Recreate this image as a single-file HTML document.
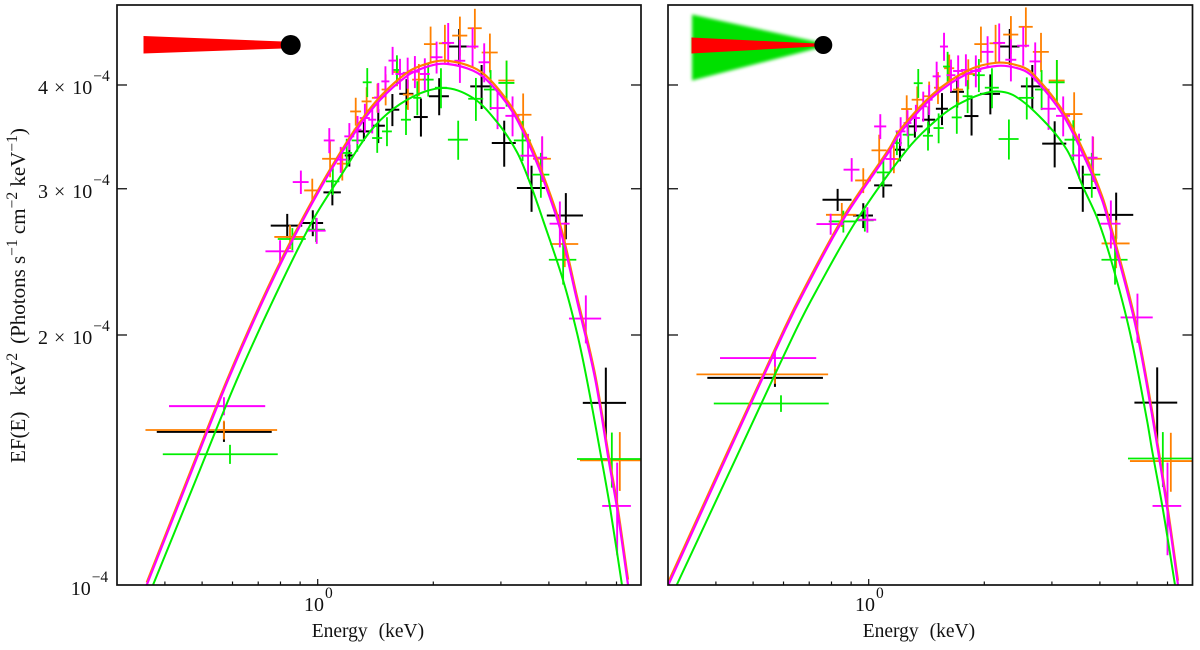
<!DOCTYPE html>
<html lang="en">
<head>
<meta charset="utf-8">
<title>EF(E) spectra</title>
<style>
html,body{margin:0;padding:0;background:#fff;width:1200px;height:650px;overflow:hidden}
svg{display:block}
text{font-family:"Liberation Serif",serif;fill:#111}
</style>
</head>
<body>
<svg id="chart" xmlns="http://www.w3.org/2000/svg" width="1200" height="650" viewBox="0 0 1200 650">
<defs>
<clipPath id="clip-left"><rect x="117" y="5" width="524" height="580"/></clipPath>
<clipPath id="clip-right"><rect x="668" y="5" width="524.5" height="580"/></clipPath>
<filter id="soft" x="-10%" y="-10%" width="120%" height="120%"><feGaussianBlur stdDeviation="1.5"/></filter>
</defs>
<g>
<polygon points="143.5,36 283,41.5 283,48.5 143.5,53.5" fill="#ff0000"/>
<circle cx="290.7" cy="45" r="10" fill="#000"/>
</g>
<g>
<polygon points="692,14.5 822,43 822,47 692,80.5" fill="#00e000" filter="url(#soft)"/>
<polygon points="691.5,37.5 816,43.5 816,46.5 691.5,53.5" fill="#ff0000"/>
<circle cx="823.3" cy="45" r="9" fill="#000"/>
</g>
<text transform="translate(25,463) rotate(-90)" font-size="21" xml:space="preserve">EF(E)<tspan dx="16">keV</tspan><tspan dy="-8" font-size="15.5">2</tspan><tspan dy="8" dx="9">(Photons s</tspan><tspan dy="-8" font-size="15.5">−1</tspan><tspan dy="8"> cm</tspan><tspan dy="-8" font-size="15.5">−2</tspan><tspan dy="8"> keV</tspan><tspan dy="-8" font-size="15.5">−1</tspan><tspan dy="8">)</tspan></text>
</svg>
<script>
// Axis tick data
const yMajorTicks = [2, 3, 4];
const yMajorLabels = ['2', '3', '4'];
const xMinorTicks = [0.4, 0.5, 0.6, 0.7, 0.8, 0.9, 2, 3, 4, 5, 6];
const xMajorTicks = [1];

// Left panel: black data set (keV, half width, flux / 1e-4, error)
const leftBlackEnergy = [.57,.833,.971,1.092,1.209,1.319,1.438,1.565,1.703,1.857,2.072,2.336,2.672,3.06,3.605,4.428,5.628];
const leftBlackEnergyErr = [.189,.0785,.062,.057,.033,.07,.058,.066,.072,.078,.124,.14,.176,.22,.303,.478,.726];
const leftBlackFlux = [1.529,2.708,2.728,2.97,3.29,3.517,3.573,3.735,3.903,3.66,3.877,4.45,3.985,3.406,3.006,2.786,1.657];
const leftBlackFluxErr = [.042,.09,.098,.105,.10,.093,.168,.166,.162,.193,.199,.222,.243,.217,.192,.178,.17];

// Left panel: orange data set
const leftOrangeEnergy = [.57,.847,.968,1.077,1.159,1.256,1.341,1.431,1.503,1.608,1.718,1.834,1.968,2.144,2.346,2.566,2.808,3.104,3.428,3.842,4.40,6.12];
const leftOrangeEnergyErr = [.214,.076,.046,.05,.038,.041,.04,.047,.036,.039,.052,.072,.077,.077,.106,.108,.135,.149,.175,.207,.37,1.30];
const leftOrangeFlux = [1.537,2.625,2.986,3.26,3.216,3.717,3.822,3.86,3.95,4.147,3.895,4.06,4.48,4.49,4.587,4.682,4.377,4.05,3.683,3.26,2.574,1.413];
const leftOrangeFluxErr = [.04,.087,.099,.163,.147,.144,.153,.155,.17,.161,.162,.18,.223,.236,.248,.259,.236,.23,.224,.203,.16,.115];

// Left panel: green data set
const leftGreenEnergy = [.591,.859,.99,1.095,1.19,1.268,1.346,1.429,1.515,1.608,1.698,1.817,1.94,2.094,2.322,2.582,2.82,3.104,3.416,3.812,4.357,5.834];
const leftGreenEnergyErr = [.196,.072,.055,.044,.039,.042,.036,.043,.045,.039,.051,.044,.064,.075,.139,.116,.11,.149,.174,.199,.358,1.10];
const leftGreenFlux = [1.437,2.61,2.678,3.062,3.313,3.43,4.03,3.453,3.517,4.17,3.633,3.86,4.06,3.97,3.437,3.85,3.95,4.023,3.43,3.12,2.464,1.418];
const leftGreenFluxErr = [.038,.08,.089,.114,.133,.105,.162,.139,.141,.173,.151,.182,.186,.22,.186,.229,.219,.256,.19,.194,.164,.108];

// Left panel: magenta data set
const leftMagentaEnergy = [.57,.798,.904,.994,1.072,1.148,1.209,1.27,1.327,1.387,1.438,1.501,1.567,1.638,1.715,1.791,1.901,2.04,2.187,2.346,2.531,2.714,2.94,3.217,3.53,3.842,4.272,4.992,6.023];
const leftMagentaEnergyErr = [.16,.067,.043,.055,.035,.041,.036,.03,.04,.033,.035,.036,.038,.044,.051,.054,.057,.073,.079,.077,.091,.09,.132,.135,.159,.115,.256,.48,.517];
const leftMagentaFlux = [1.642,2.522,3.056,2.671,3.43,3.252,3.469,3.534,3.65,3.633,3.863,4.04,4.28,4.124,4.137,4.15,4.124,4.32,4.495,4.278,4.45,4.26,3.752,3.672,3.288,3.27,2.723,2.093,1.245];
const leftMagentaFluxErr = [.041,.079,.099,.096,.119,.117,.13,.137,.147,.136,.16,.173,.166,.177,.178,.184,.183,.191,.255,.255,.24,.23,.213,.203,.205,.2,.173,.139,.159];

// Left panel: model curves
const leftModelEnergy = [.3587,.4576,.584,.742,.916,1.143,1.393,1.705,1.961,2.171,2.538,2.81,3.226,3.572,3.861,4.276,4.735,5.274,5.736,6.018,6.43];
const leftMagentaModelFlux = [1,1.33,1.765,2.266,2.751,3.29,3.753,4.10,4.218,4.241,4.162,4.02,3.704,3.369,3.085,2.686,2.20,1.775,1.406,1.238,1];
const leftOrangeModelFlux = [1.007,1.34,1.777,2.282,2.77,3.313,3.785,4.137,4.254,4.278,4.20,4.06,3.74,3.41,3.12,2.72,2.225,1.795,1.425,1.255,1.015];
const leftGreenModelEnergy = [.3725,.479,.6154,.788,.972,1.143,1.393,1.705,2.12,2.538,2.93,3.304,3.572,3.861,4.353,4.735,5.026,5.49,5.77,6.2];
const leftGreenModelFlux = [1,1.33,1.765,2.266,2.751,3.099,3.55,3.837,3.967,3.859,3.61,3.321,3.048,2.751,2.33,2.011,1.765,1.414,1.241,1];

// Right panel: black data set
const rightBlackEnergy = [.57,.83,.968,1.092,1.206,1.319,1.433,1.552,1.70,1.853,2.074,2.33,2.667,3.05,3.61,4.41,5.64];
const rightBlackEnergyErr = [.19,.072,.058,.059,.036,.063,.056,.056,.071,.078,.124,.14,.176,.22,.303,.476,.72];
const rightBlackFlux = [1.776,2.91,2.786,3.028,3.343,3.566,3.633,3.745,3.925,3.67,3.903,4.45,3.985,3.40,3.006,2.79,1.658];
const rightBlackFluxErr = [.044,.089,.096,.101,.106,.109,.136,.166,.169,.193,.216,.222,.243,.217,.192,.178,.17];

// Right panel: orange data set
const rightOrangeEnergy = [.57,.851,.968,1.065,1.163,1.256,1.338,1.437,1.515,1.621,1.71,1.817,1.96,2.14,2.346,2.566,2.81,3.09,3.428,3.842,4.41,6.12];
const rightOrangeEnergyErr = [.214,.077,.046,.048,.035,.041,.044,.047,.036,.049,.051,.076,.076,.077,.106,.108,.135,.148,.175,.207,.37,1.33];
const rightOrangeFlux = [1.793,2.791,3.07,3.337,3.258,3.742,3.84,3.877,3.97,4.19,3.95,4.124,4.48,4.49,4.60,4.70,4.385,4.05,3.69,3.26,2.578,1.41];
const rightOrangeFluxErr = [.046,.093,.106,.148,.126,.145,.144,.161,.176,.162,.164,.171,.223,.236,.242,.26,.237,.236,.23,.203,.171,.115];

// Right panel: green data set
const rightGreenEnergy = [.591,.859,.977,1.092,1.184,1.268,1.346,1.427,1.521,1.605,1.696,1.81,1.936,2.094,2.318,2.58,2.82,3.09,3.41,3.81,4.38,5.834];
const rightGreenEnergyErr = [.196,.072,.053,.043,.036,.042,.036,.043,.046,.043,.051,.054,.07,.088,.139,.116,.11,.148,.174,.199,.342,1.10];
const rightGreenFlux = [1.654,2.74,2.748,3.139,3.406,3.485,4.02,3.475,3.55,4.21,3.656,3.877,4.11,3.97,3.444,3.86,3.95,4.03,3.437,3.12,2.464,1.42];
const rightGreenFluxErr = [.038,.083,.084,.122,.113,.116,.161,.14,.147,.175,.162,.177,.188,.22,.191,.225,.219,.257,.19,.194,.164,.108];

// Right panel: magenta data set
const rightMagentaEnergy = [.57,.796,.903,.992,1.072,1.14,1.211,1.262,1.327,1.387,1.437,1.503,1.571,1.638,1.71,1.791,1.901,2.04,2.187,2.346,2.526,2.714,2.94,3.21,3.53,3.83,4.272,5.01,6.0];
const rightMagentaEnergyErr = [.16,.065,.043,.054,.039,.034,.036,.03,.032,.033,.03,.036,.038,.044,.051,.054,.063,.073,.079,.077,.091,.09,.132,.135,.159,.115,.256,.481,.515];
const rightMagentaFlux = [1.876,2.72,3.163,2.753,3.566,3.258,3.517,3.6,3.65,3.77,3.84,4.097,4.45,4.11,4.158,4.17,4.158,4.385,4.495,4.29,4.46,4.27,3.745,3.672,3.29,3.27,2.723,2.10,1.245];
const rightMagentaFluxErr = [.044,.079,.103,.097,.123,.117,.141,.13,.136,.157,.16,.17,.173,.182,.184,.185,.184,.194,.249,.25,.241,.231,.213,.203,.205,.2,.181,.143,.159];

// Right panel: model curves
const rightModelEnergy = [.3007,.4249,.6053,.6824,.8572,1.136,1.206,1.47,1.803,2.158,2.477,2.678,3.206,3.703,4.052,4.199,4.908,5.402,5.98,6.39];
const rightMagentaModelFlux = [1,1.422,2.028,2.266,2.751,3.34,3.50,3.87,4.125,4.218,4.182,4.09,3.68,3.222,2.908,2.751,2.091,1.656,1.241,1];
const rightOrangeModelFlux = [1.008,1.433,2.043,2.283,2.77,3.365,3.53,3.90,4.16,4.255,4.215,4.125,3.72,3.26,2.94,2.785,2.115,1.675,1.255,1.012];
const rightGreenModelEnergy = [.3162,.4513,.6466,.7322,.9306,1.256,1.47,1.698,2.07,2.376,2.844,3.284,3.615,3.955,4.327,4.793,5.305,5.468,5.84,6.276];
const rightGreenModelFlux = [1,1.422,2.028,2.266,2.751,3.34,3.6,3.784,3.923,3.89,3.63,3.34,3.015,2.751,2.416,2.011,1.58,1.454,1.231,1];

// Colours
const BLACK = '#000000', ORANGE = '#ff8000', GREEN = '#00ee00', MAGENTA = '#ff00ff';

const NS = 'http://www.w3.org/2000/svg';
const svg = document.getElementById('chart');
const PX_PER_DEX_X = 384, PX_PER_DEX_Y = 830.5, Y_BOTTOM = 585, Y_TOP = 5;

function yScale(f) { return Y_BOTTOM - PX_PER_DEX_Y * Math.log10(f); }

function make(tag, parent, attrs) {
  const el = document.createElementNS(NS, tag);
  for (const k in attrs) el.setAttribute(k, attrs[k]);
  parent.appendChild(el);
  return el;
}

function supLabel(parent, x, y, base, sup, name) {
  const t = make('text', parent, { x: x, y: y, 'font-size': 20 });
  
  
  t.textContent = base;
  const s = make('tspan', t, { dx: 1, dy: -13, 'font-size': 15.5 });
  s.textContent = sup;
}

function drawCross(g, xScale, panel, series, e, de, f, df, color, width) {
  const group = make('g', g, { stroke: color, 'stroke-width': width, fill: 'none' });
  
  
  e.forEach(function (val, i) {
    const x = xScale(val), y = yScale(f[i]);
    const h = make('line', group, { x1: xScale(val - de[i]), x2: xScale(val + de[i]), y1: y, y2: y });
    
    
    const v = make('line', group, { x1: x, x2: x, y1: yScale(f[i] + df[i]), y2: yScale(f[i] - df[i]) });
    
    
  });
}

function tangent(a, b, c) {
  const la = Math.hypot(b[0] - a[0], b[1] - a[1]), lc = Math.hypot(c[0] - b[0], c[1] - b[1]);
  const total = (la + lc) || 1;
  return [(c[0] - a[0]) / total, (c[1] - a[1]) / total];
}

function drawModel(g, xScale, panel, series, e, f, color, width) {
  const p = e.map(function (val, i) { return [xScale(val), yScale(f[i])]; });
  let d = 'M' + p[0][0].toFixed(2) + ' ' + p[0][1].toFixed(2);
  for (let i = 0; i < p.length - 1; i++) {
    const a = p[Math.max(i - 1, 0)], b = p[i], c = p[i + 1], n = p[Math.min(i + 2, p.length - 1)];
    const len = Math.hypot(c[0] - b[0], c[1] - b[1]) / 3;
    const t1 = tangent(a, b, c), t2 = tangent(b, c, n);
    d += 'C' + (b[0] + t1[0] * len).toFixed(2) + ' ' + (b[1] + t1[1] * len).toFixed(2) + ' ' + (c[0] - t2[0] * len).toFixed(2) + ' ' + (c[1] - t2[1] * len).toFixed(2) + ' ' + c[0].toFixed(2) + ' ' + c[1].toFixed(2);
  }
  const path = make('path', g, { d: d, fill: 'none', stroke: color, 'stroke-width': width });
  
  
}

function drawPanel(panel, x1keV, left, right, clipId, d) {
  const xScale = function (e) { return x1keV + PX_PER_DEX_X * Math.log10(e); };
  const g = make('g', svg, {});
  
  

  const plot = make('g', g, { 'clip-path': 'url(#' + clipId + ')' });
  
  
  drawCross(plot, xScale, panel, 'black', d.be, d.bde, d.bf, d.bdf, BLACK, 2);
  drawCross(plot, xScale, panel, 'orange', d.oe, d.ode, d.of, d.odf, ORANGE, 1.8);
  drawCross(plot, xScale, panel, 'green', d.ge, d.gde, d.gf, d.gdf, GREEN, 1.8);
  drawCross(plot, xScale, panel, 'magenta', d.me, d.mde, d.mf, d.mdf, MAGENTA, 1.9);
  drawModel(plot, xScale, panel, 'green', d.gme, d.gmf, GREEN, 2);
  drawModel(plot, xScale, panel, 'orange', d.ome, d.omf, ORANGE, 2.2);
  drawModel(plot, xScale, panel, 'magenta', d.ome, d.mmf, MAGENTA, 2.2);

  const frame = make('rect', g, { x: left, y: Y_TOP, width: right - left, height: Y_BOTTOM - Y_TOP, fill: 'none', stroke: '#111', 'stroke-width': 1.7 });
  
  

  yMajorTicks.forEach(function (v) {
    const y = yScale(v);
    const a = make('line', g, { x1: left, x2: left + 10, y1: y, y2: y, stroke: '#111', 'stroke-width': 1.3 });
    
    
    const b = make('line', g, { x1: right - 10, x2: right, y1: y, y2: y, stroke: '#111', 'stroke-width': 1.3 });
    
    
  });
  xMinorTicks.forEach(function (v) {
    const x = xScale(v);
    const t = make('line', g, { x1: x, x2: x, y1: Y_BOTTOM - 3.5, y2: Y_BOTTOM, stroke: '#111', 'stroke-width': 1.2 });
    
    
  });
  xMajorTicks.forEach(function (v) {
    const x = xScale(v);
    const t = make('line', g, { x1: x, x2: x, y1: Y_BOTTOM - 6, y2: Y_BOTTOM, stroke: '#111', 'stroke-width': 1.2 });
    
    
    supLabel(g, x - 13.7, 611, '10', '0', panel + '-x-tick-label');
  });

  const title = make('text', g, { x: x1keV - 6, y: 637, 'font-size': 19.5, 'xml:space': 'preserve' });
  
  
  title.textContent = 'Energy';
  const unit = make('tspan', title, { dx: 11 });
  unit.textContent = '(keV)';
}

drawPanel('left', 317.7, 117, 641, 'clip-left', {
  be: leftBlackEnergy, bde: leftBlackEnergyErr, bf: leftBlackFlux, bdf: leftBlackFluxErr,
  oe: leftOrangeEnergy, ode: leftOrangeEnergyErr, of: leftOrangeFlux, odf: leftOrangeFluxErr,
  ge: leftGreenEnergy, gde: leftGreenEnergyErr, gf: leftGreenFlux, gdf: leftGreenFluxErr,
  me: leftMagentaEnergy, mde: leftMagentaEnergyErr, mf: leftMagentaFlux, mdf: leftMagentaFluxErr,
  ome: leftModelEnergy, omf: leftOrangeModelFlux, mmf: leftMagentaModelFlux,
  gme: leftGreenModelEnergy, gmf: leftGreenModelFlux
});
drawPanel('right', 868.7, 668, 1192.5, 'clip-right', {
  be: rightBlackEnergy, bde: rightBlackEnergyErr, bf: rightBlackFlux, bdf: rightBlackFluxErr,
  oe: rightOrangeEnergy, ode: rightOrangeEnergyErr, of: rightOrangeFlux, odf: rightOrangeFluxErr,
  ge: rightGreenEnergy, gde: rightGreenEnergyErr, gf: rightGreenFlux, gdf: rightGreenFluxErr,
  me: rightMagentaEnergy, mde: rightMagentaEnergyErr, mf: rightMagentaFlux, mdf: rightMagentaFluxErr,
  ome: rightModelEnergy, omf: rightOrangeModelFlux, mmf: rightMagentaModelFlux,
  gme: rightGreenModelEnergy, gmf: rightGreenModelFlux
});

// Y tick labels (left panel only)
yMajorTicks.forEach(function (v, i) {
  const base = yScale(v) + 9;
  const t = make('text', svg, { x: 38, y: base, 'font-size': 20 });
  
  
  t.textContent = yMajorLabels[i];
  const times = make('tspan', t, { dx: 6 });
  times.textContent = '×';
  const ten = make('tspan', t, { dx: 7 });
  ten.textContent = '10';
  const sup = make('tspan', t, { dx: 1, dy: -13, 'font-size': 15.5 });
  sup.textContent = '−4';
});
supLabel(svg, 70.7, 595, '10', '−4', 'y-tick-label-bottom');
</script>
</body>
</html>
